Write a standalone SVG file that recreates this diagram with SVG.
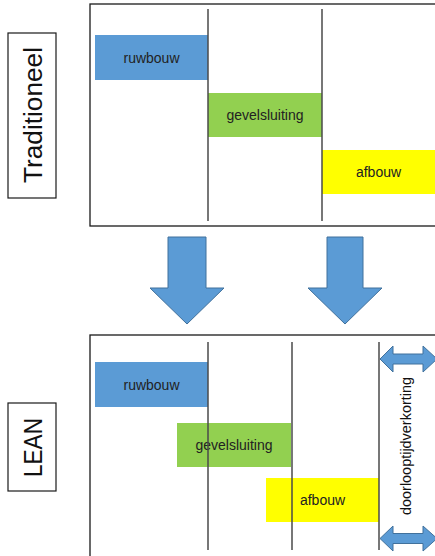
<svg xmlns="http://www.w3.org/2000/svg" width="435" height="556" viewBox="0 0 435 556">
<style>
.frame{fill:#fff;stroke:#1a1a1a;stroke-width:1.3}
.lbl{fill:#fff;stroke:#1a1a1a;stroke-width:1.2}
.big{font-family:"Liberation Sans",Arial,sans-serif;font-size:26px;fill:#111;text-anchor:middle}
.bt{font-family:"Liberation Sans",Arial,sans-serif;font-size:14px;fill:#222;text-anchor:middle;dominant-baseline:central}
.blue{fill:#5B9BD5}
.green{fill:#92D050}
.yellow{fill:#FFFF00}
.vl{stroke:#4a4a4a;stroke-width:1.5}
.barrow{fill:#5B9BD5;stroke:#41719C;stroke-width:1}
.dl{font-family:"Liberation Sans",Arial,sans-serif;font-size:14px;fill:#111;text-anchor:middle}
</style>
<rect width="435" height="556" fill="#fff"/>

<g id="traditioneel">
  <rect class="frame" x="90" y="4" width="350" height="222"/>
  <g id="trad-label">
    <rect class="lbl" x="8" y="33" width="48" height="165"/>
    <text class="big" transform="translate(42,115) rotate(-90)" textLength="136" lengthAdjust="spacingAndGlyphs">Traditioneel</text>
  </g>
  <g id="trad-ruwbouw">
    <rect class="blue" x="95" y="35" width="113" height="45"/>
    <text class="bt" x="151.5" y="58">ruwbouw</text>
  </g>
  <g id="trad-gevelsluiting">
    <rect class="green" x="208" y="93" width="114" height="44"/>
    <text class="bt" x="265" y="115">gevelsluiting</text>
  </g>
  <g id="trad-afbouw">
    <rect class="yellow" x="322" y="150" width="116" height="44"/>
    <text class="bt" x="378.5" y="172">afbouw</text>
  </g>
  <line class="vl" x1="208" y1="9" x2="208" y2="221"/>
  <line class="vl" x1="322" y1="9" x2="322" y2="221"/>
</g>

<g id="lean">
  <rect class="frame" x="90" y="335" width="350" height="230"/>
  <g id="lean-label">
    <rect class="lbl" x="8" y="403" width="48" height="88"/>
    <text class="big" transform="translate(42,447.5) rotate(-90)" textLength="59" lengthAdjust="spacingAndGlyphs">LEAN</text>
  </g>
  <g id="lean-ruwbouw">
    <rect class="blue" x="95" y="362" width="113" height="45"/>
    <text class="bt" x="151.5" y="384.5">ruwbouw</text>
  </g>
  <g id="lean-gevelsluiting">
    <rect class="green" x="177" y="423" width="114" height="44"/>
    <text class="bt" x="234" y="445">gevelsluiting</text>
  </g>
  <g id="lean-afbouw">
    <rect class="yellow" x="266" y="478" width="113" height="44"/>
    <text class="bt" x="322.5" y="500">afbouw</text>
  </g>
  <line class="vl" x1="208" y1="342" x2="208" y2="550"/>
  <line class="vl" x1="292" y1="342" x2="292" y2="550"/>
  <line class="vl" x1="379" y1="342" x2="379" y2="550"/>
  <g id="doorlooptijdverkorting">
    <text class="dl" transform="translate(411,446) rotate(-90)" textLength="138" lengthAdjust="spacingAndGlyphs">doorlooptijdverkorting</text>
  </g>
</g>

<g id="connectors">
  <polygon class="barrow" points="168,237 206,237 206,288 224,288 187,324 150,288 168,288"/>
  <polygon class="barrow" points="327,237 363,237 363,288 382,288 345,324 308,288 327,288"/>
  <polygon class="barrow" points="380,359 393,346 393,354 423,354 423,346 437,359 423,372 423,364 393,364 393,372"/>
  <polygon class="barrow" points="380,538.5 393,526 393,533.5 423,533.5 423,526 437,538.5 423,551 423,543.5 393,543.5 393,551"/>
</g>
</svg>
